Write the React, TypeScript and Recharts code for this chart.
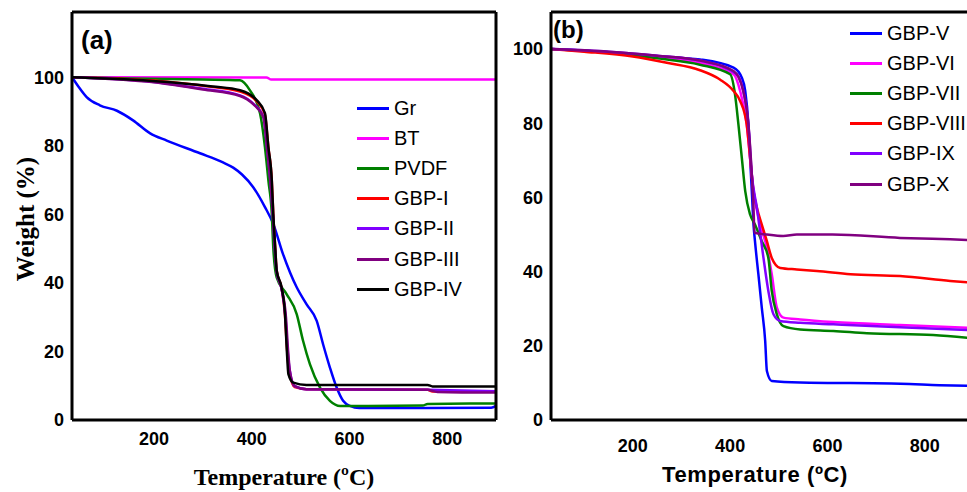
import { LineChart, Line, XAxis, YAxis } from 'recharts'

// ---------- panel (a) data: [temperature °C, weight %] ----------

const gr = [
    [32, 100], [45, 97.3], [62, 94.2], [89, 91.8], [124, 90.2], [157, 87.4], [192, 83.6],
    [226, 81.5], [294, 77.8], [340, 75.2], [362, 73.6], [380, 71.6], [403, 67.9], [427, 62.1],
    [444, 57.2], [464, 48.4], [492, 38.7], [512, 33.8], [533, 28.9], [546, 22.1], [560, 15.3],
    [574, 9.4], [587, 5.6], [601, 4.1], [620, 3.5], [760, 3.5], [890, 3.6], [900, 4.1],
]
const bt = [[32, 100], [430, 99.9], [440, 99.3], [900, 99.3]]
const pvdf = [
    [32, 100], [150, 99.6], [300, 99.3], [376, 99.1], [396, 96.2], [417, 89.4], [427, 79.6],
    [434, 69.9], [441, 60.1], [444, 50.4], [451, 41.6], [471, 36.8], [492, 30.9], [505, 23.1],
    [519, 16.3], [540, 9.4], [560, 5.6], [581, 4.1], [750, 4.2], [760, 4.7], [900, 4.8],
]
const gbp1 = [
    [32, 100], [200, 99], [300, 97.5], [376, 95.8], [410, 93], [427, 89], [434, 79.6],
    [441, 69.9], [444, 60.2], [448, 50.4], [451, 43.6], [461, 38.5], [468, 30.5], [472, 21],
    [477, 14], [488, 9.6], [512, 9], [760, 8.8], [770, 8.3], [900, 8.3],
]
const gbp2 = [
    [32, 100], [200, 98.6], [300, 96.6], [376, 94.7], [403, 92.3], [424, 88.4], [431, 79.6],
    [438, 69.9], [443, 60.2], [447, 50.4], [451, 43.2], [461, 38.3], [469, 30], [473, 21],
    [478, 14.3], [488, 9.9], [512, 9], [760, 8.8], [900, 8.4],
]
const gbp3 = [
    [32, 100], [200, 98.5], [300, 96.4], [376, 94.5], [403, 92.1], [424, 88.2], [431, 79.6],
    [438, 69.9], [443, 60.2], [447, 50.4], [451, 43.2], [461, 38.3], [470, 30], [474, 21],
    [478, 14.3], [488, 9.9], [512, 9], [760, 8.8], [780, 8.2], [900, 8],
]
const gbp4 = [
    [32, 100], [150, 99.3], [250, 98.3], [320, 97.3], [376, 96.2], [410, 93.3], [427, 89.5],
    [434, 79.6], [441, 69.9], [444, 60.2], [448, 50.4], [451, 43.6], [461, 38.7], [468, 31],
    [471.5, 21.1], [475, 13.4], [485, 10.9], [512, 10.2], [760, 10.2], [770, 9.8], [900, 9.8],
]

// ---------- panel (b) data ----------

const gbp5 = [
    [32, 100], [100, 99.6], [200, 98.6], [300, 97.6], [338, 97.2], [407, 95], [424, 92.3],
    [431, 88.7], [437.5, 79.7], [441, 70.7], [444.5, 61.7], [448, 52.7], [451, 48.2], [458, 39.3],
    [465, 30.3], [472, 21.3], [475.5, 13.2], [485.5, 10.5], [544, 10.1], [750, 9.8], [830, 9.4],
    [900, 9.2],
]
const gbp6 = [
    [32, 100], [150, 99.1], [250, 97.8], [338, 96.3], [407, 93.2], [420.5, 88.7], [434, 79.7],
    [441, 70.7], [448, 61.7], [462, 52.7], [475.5, 46.4], [485.5, 39.3], [496, 30.3], [509.5, 27.6],
    [544, 27.1], [612, 26.4], [749, 25.6], [900, 24.8],
]
const gbp7 = [
    [32, 100], [150, 99], [250, 97.5], [338, 95.8], [400, 93.2], [410, 87.8], [417, 79.7],
    [424, 70.7], [431, 61.7], [441, 55.4], [451, 52.7], [465, 48.2], [478.5, 43.7], [485.5, 34.8],
    [496, 28.5], [509.5, 25.3], [544, 24.4], [612, 24], [681, 23.4], [817, 22.9], [900, 22],
]
const gbp8 = [
    [32, 100], [100, 99.3], [200, 98], [270, 96.3], [338, 94.3], [379, 91.8], [407, 88.7],
    [420.5, 86], [434, 79.7], [441, 70.7], [448, 61.7], [455, 57.2], [465, 52.7], [475.5, 48.2],
    [485.5, 43.7], [503, 41], [537, 40.6], [578, 40.2], [647, 39.3], [749, 38.8], [852, 37.5],
    [900, 37],
]
const gbp9 = [
    [32, 100], [150, 99.3], [250, 98.2], [338, 96.9], [414, 93.2], [427, 88.7], [437.5, 79.7],
    [444.5, 66.2], [455, 57.2], [468.5, 43.7], [478.5, 34.8], [489, 28.5], [503, 26.7], [544, 26.2],
    [612, 25.8], [749, 25], [900, 24.2],
]
const gbp10 = [
    [32, 100], [150, 99.3], [250, 98.2], [338, 96.9], [407, 94.1], [427, 88.7], [437.5, 79.7],
    [444.5, 66.2], [448, 57.2], [450, 50.5], [475.5, 50], [509, 49.6], [537, 50], [610, 50],
    [749, 49.1], [852, 48.7], [900, 48.5],
]

const xTicks = [200, 400, 600, 800]
const yTicks = [0, 20, 40, 60, 80, 100]

const seriesA = [
    { name: 'Gr', color: '#0000ff', points: gr },
    { name: 'BT', color: '#ff00ff', points: bt },
    { name: 'PVDF', color: '#008000', points: pvdf },
    { name: 'GBP-I', color: '#ff0000', points: gbp1 },
    { name: 'GBP-II', color: '#8000ff', points: gbp2 },
    { name: 'GBP-III', color: '#800080', points: gbp3 },
    { name: 'GBP-IV', color: '#000000', points: gbp4 },
]
const seriesB = [
    { name: 'GBP-V', color: '#0000ff', points: gbp5 },
    { name: 'GBP-VI', color: '#ff00ff', points: gbp6 },
    { name: 'GBP-VII', color: '#008000', points: gbp7 },
    { name: 'GBP-VIII', color: '#ff0000', points: gbp8 },
    { name: 'GBP-IX', color: '#8000ff', points: gbp9 },
    { name: 'GBP-X', color: '#800080', points: gbp10 },
]

const toRows = (pts: number[][]) => pts.map(([t, w]) => ({ t, w }))

const SANS = '"Liberation Sans", Arial, sans-serif'
const SERIF = '"Liberation Serif", "Times New Roman", serif'
const tickStyle = { fill: '#000', fontSize: 18, fontWeight: 700, fontFamily: SANS }
const frame = { stroke: '#000', strokeWidth: 3 }

type Series = { name: string; color: string; points: number[][] }

function LegendBox({ series, left, top }: { series: Series[]; left: number; top: number }) {
    return (
        <div style={{ position: 'absolute', left, top, fontFamily: SANS, fontSize: 20, color: '#000' }}>
            {series.map((s) => (
                <div key={s.name} style={{ display: 'flex', alignItems: 'center', height: 30.2 }}>
                    <span style={{ display: 'inline-block', width: 32, height: 3, background: s.color, marginRight: 5 }} />
                    <span>{s.name}</span>
                </div>
            ))}
        </div>
    )
}

function PanelA() {
    return (
        <div style={{ position: 'absolute', left: 0, top: 0 }}>
            <LineChart width={500} height={492} margin={{ top: 11, right: 3, bottom: 0, left: 0 }}>
                <XAxis
                    dataKey="t"
                    type="number"
                    domain={[32, 900]}
                    ticks={xTicks}
                    height={72}
                    tickLine={false}
                    tickMargin={6}
                    axisLine={frame}
                    tick={tickStyle}
                    label={{
                        content: (p: any) => (
                            <text x={p.viewBox.x + p.viewBox.width / 2} y={p.viewBox.y + 65} textAnchor="middle"
                                fontFamily={SERIF} fontWeight={700} fontSize={24} fill="#000">
                                Temperature (ºC)
                            </text>
                        ),
                    }}
                />
                <XAxis
                    xAxisId="top"
                    orientation="top"
                    type="number"
                    domain={[32, 900]}
                    height={1}
                    tick={false}
                    tickLine={false}
                    axisLine={frame}
                    label={{
                        content: (p: any) => (
                            <text x={p.viewBox.x + 9} y={p.viewBox.y + 38} fontFamily={SANS} fontWeight={700}
                                fontSize={26} fill="#000">
                                (a)
                            </text>
                        ),
                    }}
                />
                <YAxis
                    type="number"
                    domain={[0, 119]}
                    ticks={yTicks}
                    width={72}
                    tickLine={false}
                    axisLine={frame}
                    tick={tickStyle}
                    label={{
                        content: (p: any) => {
                            const cx = p.viewBox.x + 25
                            const cy = p.viewBox.y + p.viewBox.height / 2 + 3
                            return (
                                <text x={cx} y={cy} transform={`rotate(-90 ${cx} ${cy})`} textAnchor="middle"
                                    dominantBaseline="central" fontFamily={SERIF} fontWeight={700} fontSize={25} fill="#000">
                                    Weight (%)
                                </text>
                            )
                        },
                    }}
                />
                <YAxis yAxisId="right" orientation="right" type="number" domain={[0, 119]} width={1}
                    tick={false} tickLine={false} axisLine={frame} />
                {seriesA.map((s) => (
                    <Line key={s.name} data={toRows(s.points)} dataKey="w" name={s.name} type="monotone"
                        stroke={s.color} strokeWidth={2.5} dot={false} isAnimationActive={false} />
                ))}
            </LineChart>
            <LegendBox series={seriesA} left={357} top={93} />
        </div>
    )
}

function PanelB() {
    return (
        <div style={{ position: 'absolute', left: 500, top: 0 }}>
            <LineChart width={480} height={492} margin={{ top: 11, right: 5, bottom: 0, left: 0 }}>
                <XAxis
                    dataKey="t"
                    type="number"
                    domain={[32, 903]}
                    ticks={xTicks}
                    height={72}
                    tickLine={false}
                    tickMargin={13}
                    axisLine={frame}
                    tick={tickStyle}
                    label={{
                        content: (p: any) => (
                            <text x={p.viewBox.x + p.viewBox.width / 2 - 8} y={p.viewBox.y + 62} textAnchor="middle"
                                fontFamily={SANS} fontWeight={700} fontSize={22} letterSpacing={0.6} fill="#000">
                                Temperature (ºC)
                            </text>
                        ),
                    }}
                />
                <XAxis
                    xAxisId="top"
                    orientation="top"
                    type="number"
                    domain={[32, 903]}
                    height={1}
                    tick={false}
                    tickLine={false}
                    axisLine={frame}
                    label={{
                        content: (p: any) => (
                            <text x={p.viewBox.x + 2} y={p.viewBox.y + 27} fontFamily={SANS} fontWeight={700}
                                fontSize={24} fill="#000">
                                (b)
                            </text>
                        ),
                    }}
                />
                <YAxis
                    type="number"
                    domain={[0, 110]}
                    ticks={yTicks}
                    width={51}
                    tickLine={false}
                    axisLine={frame}
                    tick={tickStyle}
                />
                {seriesB.map((s) => (
                    <Line key={s.name} data={toRows(s.points)} dataKey="w" name={s.name} type="monotone"
                        stroke={s.color} strokeWidth={2.5} dot={false} isAnimationActive={false} />
                ))}
            </LineChart>
            <LegendBox series={seriesB} left={350} top={18} />
        </div>
    )
}

export default function App() {
    return (
        <div style={{ position: 'absolute', left: 0, top: 0, width: 967, height: 492, overflow: 'hidden', background: '#fff' }}>
            <PanelA />
            <PanelB />
        </div>
    )
}
